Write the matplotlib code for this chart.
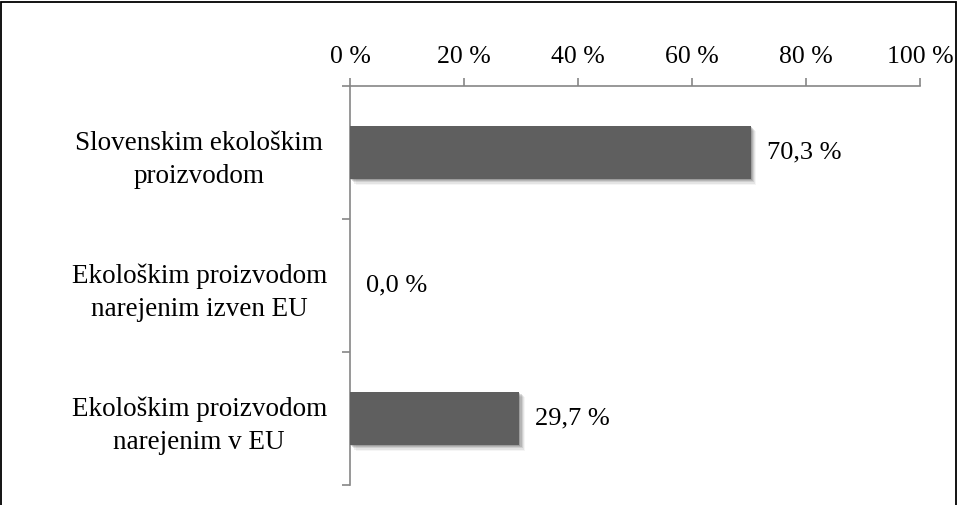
import matplotlib
matplotlib.use("Agg")
import matplotlib.pyplot as plt
import matplotlib.patheffects as pe
from matplotlib.patches import Rectangle

categories = ["Slovenskim ekološkim\nproizvodom",
              "Ekološkim proizvodom\nnarejenim izven EU",
              "Ekološkim proizvodom\nnarejenim v EU"]
values = [70.3, 0.0, 29.7]
value_labels = ["70,3 %", "0,0 %", "29,7 %"]
xticks = [0, 20, 40, 60, 80, 100]
xtick_labels = ["0 %", "20 %", "40 %", "60 %", "80 %", "100 %"]

plt.rcParams['font.family'] = ['Liberation Serif', 'DejaVu Serif']

fig = plt.figure(figsize=(9.58, 5.05), dpi=100)
ax = fig.add_axes([350/958, 1-485/505, 570/958, 399/505])

n = len(categories)
ypos = list(range(n))
bars = ax.barh(ypos, values, height=0.40, color="#5f5f5f", zorder=3)
shadow = []
for k, a in [(1, 0.25), (2, 0.2), (3, 0.15), (4, 0.1), (5, 0.06)]:
    shadow.append(pe.SimplePatchShadow(offset=(k * 0.8, -k * 0.8), shadow_rgbFace="#555555", alpha=a))
for b in bars:
    b.set_path_effects(shadow + [pe.Normal()])

ax.set_xlim(0, 100)
ax.set_ylim(n - 0.5, -0.5)
ax.xaxis.tick_top()
ax.set_xticks(xticks)
ax.set_xticklabels(xtick_labels, fontsize=18.5)
ax.tick_params(axis='x', direction='out', length=6, width=1.2, color="#868686", pad=7)

ax.set_yticks([i - 0.5 for i in range(n + 1)])
ax.set_yticklabels([])
ax.set_yticks(ypos, minor=True)
ax.set_yticklabels(categories, minor=True, fontsize=19.5, multialignment='center', ha='center',
                   linespacing=1.45)
ax.tick_params(axis='y', which='major', direction='out', length=6, width=1.2, color="#868686")
ax.tick_params(axis='y', which='minor', length=0, pad=108.5)

for s in ['right', 'bottom']:
    ax.spines[s].set_visible(False)
for s in ['left', 'top']:
    ax.spines[s].set_color("#868686")
    ax.spines[s].set_linewidth(1.2)

for y, v, lab in zip(ypos, values, value_labels):
    ax.annotate(lab, (v, y), xytext=(11.5, 0), textcoords='offset points',
                va='center', ha='left', fontsize=19)

fig.patches.append(Rectangle((1/958, -0.05), 955/958, 1.05 - 2/505, transform=fig.transFigure,
                             fill=False, edgecolor='black', linewidth=1.3))

fig.savefig("out.png", dpi=100)
